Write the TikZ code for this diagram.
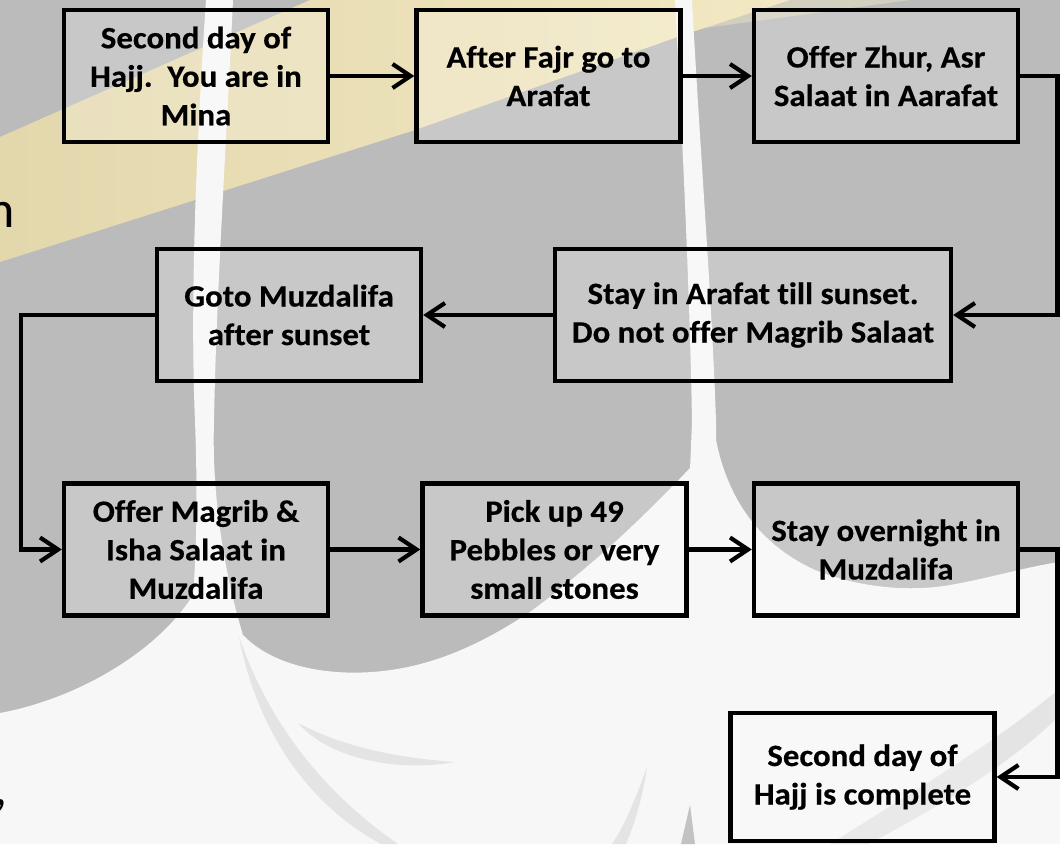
\documentclass[tikz,border=0pt]{standalone}
\usepackage{fontspec}
\setmainfont{Carlito}
\newfontfamily\boxfont{Carlito}[FakeStretch=1.06, Ligatures={NoCommon}, BoldFeatures={FakeBold=0.4}]
\usetikzlibrary{arrows.meta}
\definecolor{bggray}{HTML}{BBBBBB}
\definecolor{bgwhite}{HTML}{F7F7F7}
\definecolor{band}{HTML}{E3D7AC}
\definecolor{bandlight}{HTML}{F2E9C4}
\definecolor{faint}{HTML}{E4E4E4}
\begin{document}
\begin{tikzpicture}[x=1pt,y=-1pt,
  box/.style={draw=black, line width=4.3pt, fill=white, fill opacity=0.2, text opacity=1,
    minimum width=264pt, minimum height=132pt, align=center, inner sep=0pt,
    font=\boxfont\fontsize{31}{38.5}\selectfont\bfseries},
  conn/.style={draw=black, line width=4.2pt, -{Straight Barb[length=18pt,width=24pt]}},
  frag/.style={inner sep=0pt, anchor=base east, font=\fontsize{52}{60}\selectfont}
]
\useasboundingbox (0,0) rectangle (1060,844);
\clip (0,0) rectangle (1060,844);
% background
\fill[bggray] (0,0) rectangle (1060,844);
\shade[left color=band, right color=bandlight]
  (0,137) -- (310,0) -- (790,0) -- (683,35) -- (415,130) -- (0,262) -- cycle;
\fill[bandlight, opacity=0.45] (690,30) -- (760,0) -- (910,0) -- cycle;
% stripe A
\fill[bgwhite] (206,0) .. controls (196,150) and (190,300) .. (195,422)
  .. controls (198,500) and (196,560) .. (193,595) -- (243,635)
  .. controls (220,560) and (212,480) .. (214,422)
  .. controls (216,300) and (226,150) .. (233,0) -- cycle;
% stripe B
\fill[bgwhite] (675,0) .. controls (683,150) and (690,300) .. (692,422) -- (690,470)
  -- (716,450) -- (716,422) .. controls (712,300) and (700,150) .. (692,0) -- cycle;
% bottom white region
\fill[bgwhite] (0,713) .. controls (80,698) and (160,650) .. (195,592) -- (243,635)
  .. controls (275,668) and (330,675) .. (372,672)
  .. controls (430,668) and (480,645) .. (530,612)
  .. controls (600,560) and (650,510) .. (690,468) -- (716,440)
  .. controls (728,500) and (760,545) .. (815,570)
  .. controls (860,588) and (910,592) .. (950,585)
  .. controls (990,578) and (1030,566) .. (1060,562)
  -- (1060,844) -- (0,844) -- cycle;
% faint strokes
\fill[faint] (239,637) .. controls (255,720) and (300,800) .. (381,844) -- (398,844)
  .. controls (320,790) and (268,720) .. (239,637) -- cycle;
\fill[faint] (298,723) .. controls (330,760) and (400,772) .. (455,762)
  .. controls (400,758) and (345,748) .. (298,723) -- cycle;
\fill[faint] (1060,688) .. controls (1000,740) and (900,800) .. (830,844) -- (868,844)
  .. controls (930,812) and (1010,765) .. (1060,715) -- cycle;
\fill[faint] (647,767) .. controls (635,800) and (625,825) .. (612,844) -- (626,844)
  .. controls (636,820) and (643,795) .. (647,767) -- cycle;
\fill[faint!85!black] (690,805) -- (695,844) -- (681,844) -- cycle;
% cut-off text fragments at the left edge
\node[frag] (hfrag) at (15,227) {h};
\node[frag] (cfrag) at (8,805) {,};
% boxes
\node[box] (b1) at (196,76) {Second day of\\Hajj.~\ You are in\\Mina};
\node[box] (b2) at (548.5,76) {After Fajr go to\\Arafat};
\node[box] (b3) at (886,76) {Offer Zhur, Asr\\Salaat in Aarafat};
\node[box] (b4) at (289,315) {Goto Muzdalifa\\after sunset};
\node[box, minimum width=396pt] (b5) at (753,315) {Stay in Arafat till sunset.\\Do not offer Magrib Salaat};
\node[box] (b6) at (196,549.5) {Offer Magrib \&\\Isha Salaat in\\Muzdalifa};
\node[box] (b7) at (554.5,549.5) {Pick up 49\\Pebbles or very\\small stones};
\node[box] (b8) at (886,549.5) {Stay overnight in\\Muzdalifa};
\node[box, minimum height=128pt] (b9) at (862.5,777) {Second day of\\Hajj is complete};
% bends
\coordinate (r1) at (1057.5,76);
\coordinate (r2) at (1057.5,549.5);
\coordinate (l1) at (21,315);
% connectors
\draw[conn] (b1.east) -- (b2.west);
\draw[conn] (b2.east) -- (b3.west);
\draw[conn] (b3.east) -- (r1) |- (b5.east);
\draw[conn] (b5.west) -- (b4.east);
\draw[conn] (b4.west) -- (l1) |- (b6.west);
\draw[conn] (b6.east) -- (b7.west);
\draw[conn] (b7.east) -- (b8.west);
\draw[conn] (b8.east) -- (r2) |- (b9.east);
\end{tikzpicture}
\end{document}
